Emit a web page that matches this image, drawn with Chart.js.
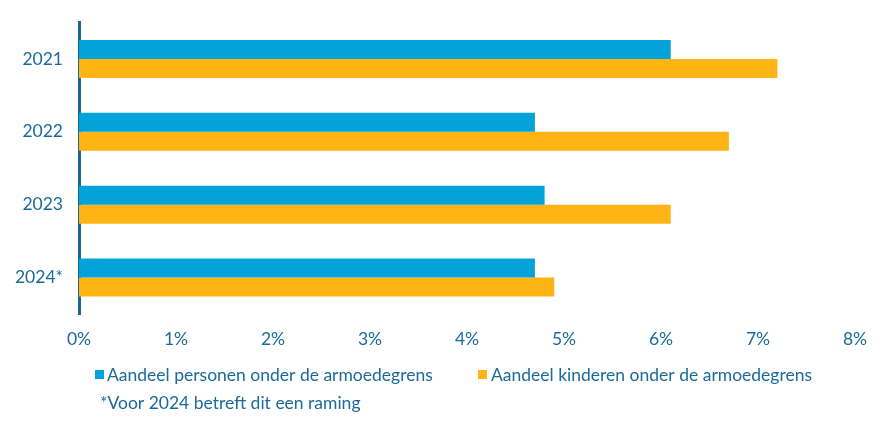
<!DOCTYPE html>
<html>
<head>
<meta charset="utf-8">
<script src="https://cdn.jsdelivr.net/npm/chart.js@4/dist/chart.umd.min.js"></script>
<style>
html,body{margin:0;padding:0;background:#fff;}
#wrap{width:892px;height:426px;position:relative;}
</style>
</head>
<body>
<div id="wrap"><canvas id="c" width="892" height="426"></canvas></div>
<script>
const categories = ['2021', '2022', '2023', '2024*'];
const personen = [6.1, 4.7, 4.8, 4.7];
const kinderen = [7.2, 6.7, 6.1, 4.9];
const xTicks = [0, 1, 2, 3, 4, 5, 6, 7, 8];
const seriesNames = ['Aandeel personen onder de armoedegrens', 'Aandeel kinderen onder de armoedegrens'];
const seriesColors = ['#03a3da', '#feb414'];
const footnote = '*Voor 2024 betreft dit een raming';

const textColor = '#1a6a9b';
const fontFamily = 'Lato, "Open Sans", sans-serif';
const fontSize = 17.5;

// legend + footnote drawn below the chart
const legendPlugin = {
  id: 'bottomLegend',
  afterDraw(chart) {
    const ctx = chart.ctx;
    const items = [{ mx: 95, tx: 107 }, { mx: 478, tx: 491 }];
    ctx.save();
    ctx.font = fontSize + 'px ' + fontFamily;
    ctx.textBaseline = 'middle';
    ctx.textAlign = 'left';
    chart.data.datasets.forEach((ds, i) => {
      const it = items[i];
      ctx.fillStyle = ds.backgroundColor;
      ctx.fillRect(it.mx, 370, 9, 9);
      ctx.fillStyle = textColor;
      ctx.fillText(ds.label, it.tx, 375);
    });
    ctx.fillStyle = textColor;
    ctx.fillText(footnote, 100, 403);
    ctx.restore();
  }
};

new Chart(document.getElementById('c'), {
  type: 'bar',
  data: {
    labels: categories,
    datasets: [
      { label: seriesNames[0], data: personen, backgroundColor: seriesColors[0], borderWidth: 0 },
      { label: seriesNames[1], data: kinderen, backgroundColor: seriesColors[1], borderWidth: 0 }
    ]
  },
  options: {
    indexAxis: 'y',
    responsive: false,
    animation: false,
    layout: { padding: { top: 22.5, right: 37, bottom: 61, left: 0 } },
    scales: {
      x: {
        min: 0, max: 8,
        afterBuildTicks: s => { s.ticks = xTicks.map(v => ({ value: v })); },
        grid: { display: false, drawTicks: false },
        border: { display: false },
        ticks: {
          color: textColor,
          font: { family: fontFamily, size: fontSize },
          padding: 15,
          callback: v => v + '%'
        }
      },
      y: {
        grid: { display: false, drawTicks: false },
        border: { display: true, color: '#1a6593', width: 3 },
        afterFit: s => { s.width = 79; s.paddingTop = 0; s.paddingBottom = 0; },
        ticks: {
          color: textColor,
          font: { family: fontFamily, size: fontSize },
          padding: 16
        }
      }
    },
    datasets: { bar: { categoryPercentage: 0.52, barPercentage: 1.0 } },
    plugins: {
      legend: { display: false },
      tooltip: { enabled: false },
      title: { display: false }
    }
  },
  plugins: [legendPlugin]
});
</script>
</body>
</html>
